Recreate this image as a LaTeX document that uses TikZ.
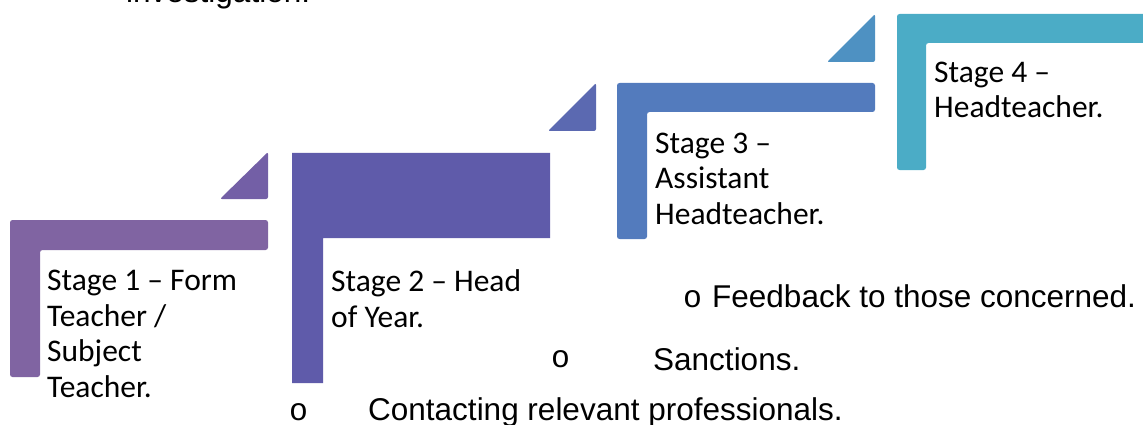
\documentclass[tikz,border=0pt]{standalone}
\usepackage{fontspec}
\setmainfont{Liberation Sans}
\newfontfamily\calib[Ligatures=TeX]{Carlito}
\newfontfamily\cour{Liberation Mono}
\definecolor{cA}{HTML}{8064A2}
\definecolor{tA}{HTML}{735FA6}
\definecolor{cB}{HTML}{5F5BAA}
\definecolor{tB}{HTML}{5B69B1}
\definecolor{cC}{HTML}{537BBD}
\definecolor{tC}{HTML}{4E91C2}
\definecolor{cD}{HTML}{4BACC6}
\begin{document}
\begin{tikzpicture}[x=1pt,y=-1pt,
  stagetext/.style={font=\calib\fontsize{31.5}{35.5}\selectfont, anchor=base west, align=left, inner sep=0pt},
  bullettext/.style={font=\fontsize{31.5}{36}\selectfont, anchor=base west, inner sep=0pt},
  bulletmark/.style={font=\cour\fontsize{31.5}{36}\selectfont, anchor=base west, inner sep=0pt},
  lshape/.style={rounded corners=2.5pt},
  tri/.style={rounded corners=2pt}]
\useasboundingbox (0,0) rectangle (1143,425);
\clip (0,0) rectangle (1143,425);
% top clipped line
\node[bullettext] (inv) at (126,3) {investigation.};
% stage 1
\fill[cA, lshape] (10,220) -- (268,220) -- (268,250) -- (40,250) -- (40,377) -- (10,377) -- cycle;
\fill[tA, tri] (220,199) -- (268,199) -- (268,152) -- cycle;
\node[stagetext] (s1) at (47,397) {Stage 1 – Form\\Teacher /\\Subject\\Teacher.};
% stage 2
\fill[cB] (292,153) -- (550,153) -- (550,238) -- (323,238) -- (323,383) -- (292,383) -- cycle;
\fill[tB, tri] (548,131) -- (596,131) -- (596,83) -- cycle;
\node[stagetext] (s2) at (331,327) {Stage 2 – Head\\of Year.};
% stage 3
\fill[cC, lshape] (617,83) -- (875,83) -- (875,112) -- (647,112) -- (647,239) -- (617,239) -- cycle;
\fill[tC, tri] (827,62) -- (875,62) -- (875,14) -- cycle;
\node[stagetext] (s3) at (655,224) {Stage 3 –\\Assistant\\Headteacher.};
% stage 4
\fill[cD, lshape] (897,14) -- (1160,14) -- (1160,43) -- (926,43) -- (926,170) -- (897,170) -- cycle;
\node[stagetext] (s4) at (934,118) {Stage 4 –\\Headteacher.};
% bullets
\node[bulletmark] (b1) at (683,307) {o};
\node[bullettext] (t1) at (712,307) {Feedback to those concerned.};
\node[bulletmark] (b2) at (551,367) {o};
\node[bullettext] (t2) at (653,370) {Sanctions.};
\node[bulletmark] (b3) at (289,420) {o};
\node[bullettext] (t3) at (368,420) {Contacting relevant professionals.};
\end{tikzpicture}
\end{document}
